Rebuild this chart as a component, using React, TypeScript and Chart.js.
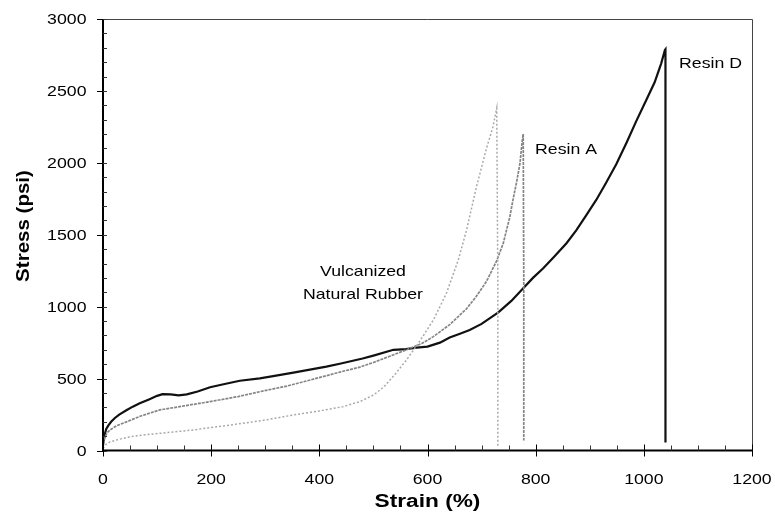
import React, { useEffect, useRef } from "react";
import { Chart, registerables } from "chart.js";

Chart.register(...registerables);

// ---- Data ----
const resinDStrain = [0, 3, 6, 10, 15, 22, 30, 44, 55, 68, 85, 100, 110, 125, 140, 155, 175, 198, 225, 253, 290, 320, 352, 380, 413, 440, 460, 480, 500, 537, 560, 580, 600, 623, 641, 660, 678, 700, 731, 755, 777, 795, 814, 835, 857, 875, 894, 912, 930, 949, 968, 986, 1005, 1020, 1032, 1039, 1040, 1040, 1040];
const resinDStress = [40, 110, 150, 175, 200, 226, 250, 282, 305, 328, 355, 380, 392, 390, 383, 390, 410, 440, 462, 485, 502, 520, 541, 560, 583, 605, 622, 640, 660, 700, 705, 715, 722, 750, 785, 812, 838, 880, 960, 1040, 1128, 1200, 1267, 1350, 1441, 1530, 1638, 1742, 1860, 1990, 2140, 2290, 2440, 2560, 2690, 2785, 2790, 1500, 55];

const resinAStrain = [0, 2, 4, 8, 13, 25, 44, 70, 105, 150, 198, 250, 290, 340, 383, 438, 475, 500, 530, 561, 590, 610, 623, 641, 672, 690, 709, 728, 740, 752, 758, 765, 771, 775, 777, 778, 778];
const resinAStress = [20, 70, 96, 125, 143, 172, 200, 240, 282, 310, 340, 375, 409, 448, 490, 545, 580, 612, 655, 700, 745, 790, 825, 875, 985, 1070, 1175, 1320, 1440, 1620, 1742, 1870, 1997, 2150, 2200, 1200, 70];

const rubberStrain = [0, 5, 12, 25, 45, 74, 120, 167, 210, 259, 300, 352, 400, 444, 475, 500, 520, 540, 561, 583, 611, 635, 657, 672, 691, 709, 721, 728, 730, 730];
const rubberStress = [15, 40, 58, 73, 92, 108, 125, 143, 165, 189, 212, 247, 275, 305, 340, 385, 445, 530, 629, 745, 908, 1093, 1325, 1530, 1840, 2100, 2250, 2380, 1200, 30];

const xTicks = [0, 200, 400, 600, 800, 1000, 1200];
const yTicks = [0, 500, 1000, 1500, 2000, 2500, 3000];
const xTitle = "Strain (%)";
const yTitle = "Stress (psi)";
const labelResinD = "Resin D";
const labelResinA = "Resin A";
const labelRubber = ["Vulcanized", "Natural Rubber"];

const FONT = "'Liberation Sans', Arial, Helvetica, sans-serif";

function toPoints(xs: number[], ys: number[]) {
  return xs.map((v, i) => ({ x: v, y: ys[i] }));
}

function drawStretched(
  ctx: CanvasRenderingContext2D,
  text: string,
  x: number,
  y: number,
  font: string,
  sx: number,
  align: CanvasTextAlign,
  rotate = 0
) {
  ctx.save();
  ctx.font = font;
  ctx.textAlign = align;
  ctx.textBaseline = "alphabetic";
  ctx.fillStyle = "#000";
  ctx.translate(x, y);
  if (rotate) ctx.rotate(rotate);
  ctx.scale(sx, 1);
  ctx.fillText(text, 0, 0);
  ctx.restore();
}

const decorPlugin = {
  id: "decor",
  afterDatasetsDraw(chart: any) {
    const { ctx, chartArea: a, scales } = chart;
    const xs = scales.x;
    const ys = scales.y;
    ctx.save();
    // top & right frame
    ctx.strokeStyle = "#444";
    ctx.lineWidth = 1;
    ctx.beginPath();
    ctx.moveTo(a.left, a.top + 0.5);
    ctx.lineTo(a.right + 0.5, a.top + 0.5);
    ctx.lineTo(a.right + 0.5, a.bottom);
    ctx.stroke();
    // left & bottom axes
    ctx.strokeStyle = "#000";
    ctx.lineWidth = 2;
    ctx.beginPath();
    ctx.moveTo(a.left, a.top);
    ctx.lineTo(a.left, a.bottom);
    ctx.lineTo(a.right, a.bottom);
    ctx.stroke();

    // minor ticks
    ctx.lineWidth = 1;
    ctx.strokeStyle = "#333";
    const yMax = yTicks[yTicks.length - 1];
    for (let v = 0; v <= yMax; v += (yTicks[1] - yTicks[0]) / 5) {
      const p = Math.round(ys.getPixelForValue(v)) + 0.5;
      ctx.beginPath();
      ctx.moveTo(a.left, p);
      ctx.lineTo(a.left + 4, p);
      ctx.stroke();
    }
    const xMax = xTicks[xTicks.length - 1];
    for (let v = 0; v <= xMax; v += (xTicks[1] - xTicks[0]) / 4) {
      const p = Math.round(xs.getPixelForValue(v)) + 0.5;
      ctx.beginPath();
      ctx.moveTo(p, a.bottom);
      ctx.lineTo(p, a.bottom - 5);
      ctx.stroke();
    }
    // major ticks
    ctx.strokeStyle = "#000";
    yTicks.forEach((v) => {
      const p = Math.round(ys.getPixelForValue(v)) + 0.5;
      ctx.beginPath();
      ctx.moveTo(a.left - 6, p);
      ctx.lineTo(a.left, p);
      ctx.stroke();
    });
    xTicks.forEach((v) => {
      const p = Math.round(xs.getPixelForValue(v)) + 0.5;
      ctx.beginPath();
      ctx.moveTo(p, a.bottom - 6);
      ctx.lineTo(p, a.bottom + 6);
      ctx.stroke();
    });

    // tick labels
    const tickFont = `15px ${FONT}`;
    yTicks.forEach((v) => {
      const p = ys.getPixelForValue(v);
      drawStretched(ctx, String(v), a.left - 16.5, p + 5.4, tickFont, 1.18, "right");
    });
    xTicks.forEach((v) => {
      const p = xs.getPixelForValue(v);
      drawStretched(ctx, String(v), p, 484, tickFont, 1.18, "center");
    });

    // axis titles
    const titleFont = `bold 18px ${FONT}`;
    drawStretched(ctx, xTitle, (a.left + a.right) / 2, 506.5, titleFont, 1.26, "center");
    drawStretched(ctx, yTitle, 29, 226, `bold 19px ${FONT}`, 1.08, "center", -Math.PI / 2);

    // series labels
    const labFont = `15px ${FONT}`;
    drawStretched(ctx, labelResinD, 679, 67.7, labFont, 1.18, "left");
    drawStretched(ctx, labelResinA, 535, 153.5, labFont, 1.18, "left");
    drawStretched(ctx, labelRubber[0], 363, 276, labFont, 1.18, "center");
    drawStretched(ctx, labelRubber[1], 363, 298.5, labFont, 1.18, "center");
    ctx.restore();
  },
};

export default function App() {
  const ref = useRef<HTMLCanvasElement | null>(null);

  useEffect(() => {
    document.body.style.margin = "0";
    const canvas = ref.current;
    if (!canvas) return;
    const chart = new Chart(canvas, {
      type: "scatter",
      data: {
        datasets: [
          {
            label: "Vulcanized Natural Rubber",
            data: toPoints(rubberStrain, rubberStress),
            showLine: true,
            borderColor: "#a9a9a9",
            borderWidth: 1.5,
            borderDash: [2, 2],
            pointRadius: 0,
            tension: 0,
          },
          {
            label: "Resin A",
            data: toPoints(resinAStrain, resinAStress),
            showLine: true,
            borderColor: "#858585",
            borderWidth: 1.7,
            borderDash: [3, 1],
            pointRadius: 0,
            tension: 0,
          },
          {
            label: "Resin D",
            data: toPoints(resinDStrain, resinDStress),
            showLine: true,
            borderColor: "#111",
            borderWidth: 2.2,
            pointRadius: 0,
            tension: 0,
          },
        ],
      },
      options: {
        animation: false,
        responsive: false,
        devicePixelRatio: 1,
        layout: { padding: { left: 0, top: 19, right: 23, bottom: 0 } },
        plugins: {
          legend: { display: false },
          tooltip: { enabled: false },
        },
        scales: {
          x: {
            type: "linear",
            min: 0,
            max: 1200,
            ticks: { display: false, stepSize: 200 },
            grid: { display: false },
            border: { display: false },
            afterFit: (s: any) => {
              s.height = 74.5;
            },
          },
          y: {
            type: "linear",
            min: 0,
            max: 3000,
            ticks: { display: false, stepSize: 500 },
            grid: { display: false },
            border: { display: false },
            afterFit: (s: any) => {
              s.width = 103;
            },
          },
        },
      },
      plugins: [decorPlugin],
    });
    return () => chart.destroy();
  }, []);

  return (
    <div style={{ position: "fixed", left: 0, top: 0, width: 775, height: 525, background: "#fff" }}>
      <canvas ref={ref} width={775} height={525} />
    </div>
  );
}
